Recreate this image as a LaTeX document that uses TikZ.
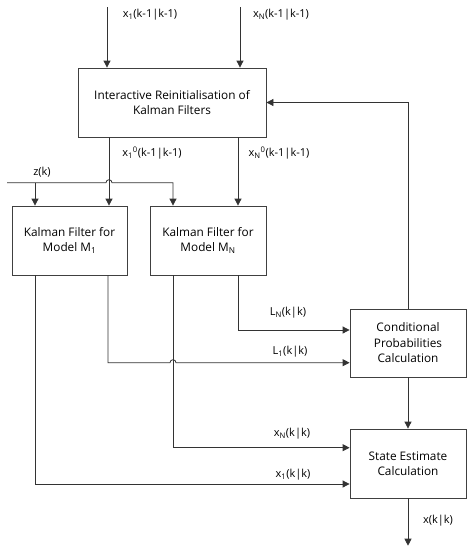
\documentclass[tikz,border=0pt]{standalone}
\usepackage{fontspec}
\setmainfont{Open Sans}
\usetikzlibrary{arrows.meta}
\begin{document}
\begin{tikzpicture}[x=1pt,y=-1pt,
  line/.style={draw=black!80,line width=0.8pt},
  arr/.style={line,-{Triangle[length=7pt,width=7pt]}},
  blk/.style={draw=black!75,line width=0.8pt,align=center,inner sep=0pt,font=\fontsize{11.8}{15.5}\selectfont},
  lbl/.style={inner sep=0pt,font=\fontsize{11}{13}\selectfont}]
\useasboundingbox (0,0) rectangle (474,550);
\node[blk,minimum width=188pt,minimum height=69pt] (IR) at (172,102.5) {Interactive Reinitialisation of\\Kalman Filters};
\node[blk,minimum width=115pt,minimum height=69pt] (KF1) at (69.5,240.5) {Kalman Filter for\\Model M\textsubscript{1}};
\node[blk,minimum width=116pt,minimum height=69pt] (KFN) at (208,240.5) {Kalman Filter for\\Model M\textsubscript{N}};
\node[blk,minimum width=116pt,minimum height=68pt] (CP) at (408,343) {Conditional\\Probabilities\\Calculation};
\node[blk,minimum width=116pt,minimum height=69pt] (SE) at (408,463.5) {State Estimate\\Calculation};
% inputs
\coordinate (in1) at (107,7);
\coordinate (inN) at (240,7);
\draw[arr] (in1) -- (in1 |- IR.north);
\draw[arr] (inN) -- (inN |- IR.north);
% IR outputs
\coordinate (o1) at (109,0);
\coordinate (oN) at (238,0);
\draw[arr] (o1 |- IR.south) -- (o1 |- KF1.north);
\draw[arr] (oN |- IR.south) -- (oN |- KFN.north);
% z(k)
\coordinate (z0) at (7,182.7);
\coordinate (zA) at (35,182.7);
\draw[arr] (zA) -- (zA |- KF1.north);
\draw[arr] (z0) -- (106,182.7) arc[start angle=180,end angle=360,radius=3] -- (173,182.7) -- (173,0 |- KFN.north);
% KF outputs
\draw[arr] (35,0 |- KF1.south) -- (35,484) -- (SE.west |- 0,484);
\draw[arr] (108,0 |- KF1.south) -- (108,362.7) -- (170,362.7) arc[start angle=180,end angle=360,radius=3] -- (CP.west |- 0,362.7);
\draw[arr] (173,0 |- KFN.south) -- (173,447.7) -- (SE.west |- 0,447.7);
\draw[arr] (238,0 |- KFN.south) -- (238,330) -- (CP.west |- 0,330);
% CP
\draw[arr] (CP.north) -- (CP.north |- IR.east) -- (IR.east);
\draw[arr] (CP.south) -- (SE.north);
\coordinate (out) at (408,545.7);
\draw[arr] (SE.south) -- (out);
% labels
\node[lbl] (l1) at (150,15) {x\textsubscript{1}(k-1|k-1)};
\node[lbl] (l2) at (281,15) {x\textsubscript{N}(k-1|k-1)};
\node[lbl] (l3) at (152,153) {x\textsubscript{1}\textsuperscript{0}(k-1|k-1)};
\node[lbl] (l4) at (279,153) {x\textsubscript{N}\textsuperscript{0}(k-1|k-1)};
\node[lbl] (l5) at (42,172) {z(k)};
\node[lbl] (l6) at (288,313) {L\textsubscript{N}(k|k)};
\node[lbl] (l7) at (290,352) {L\textsubscript{1}(k|k)};
\node[lbl] (l8) at (292,434) {x\textsubscript{N}(k|k)};
\node[lbl] (l9) at (293,475) {x\textsubscript{1}(k|k)};
\node[lbl] (l10) at (438,521) {x(k|k)};
\end{tikzpicture}
\end{document}
